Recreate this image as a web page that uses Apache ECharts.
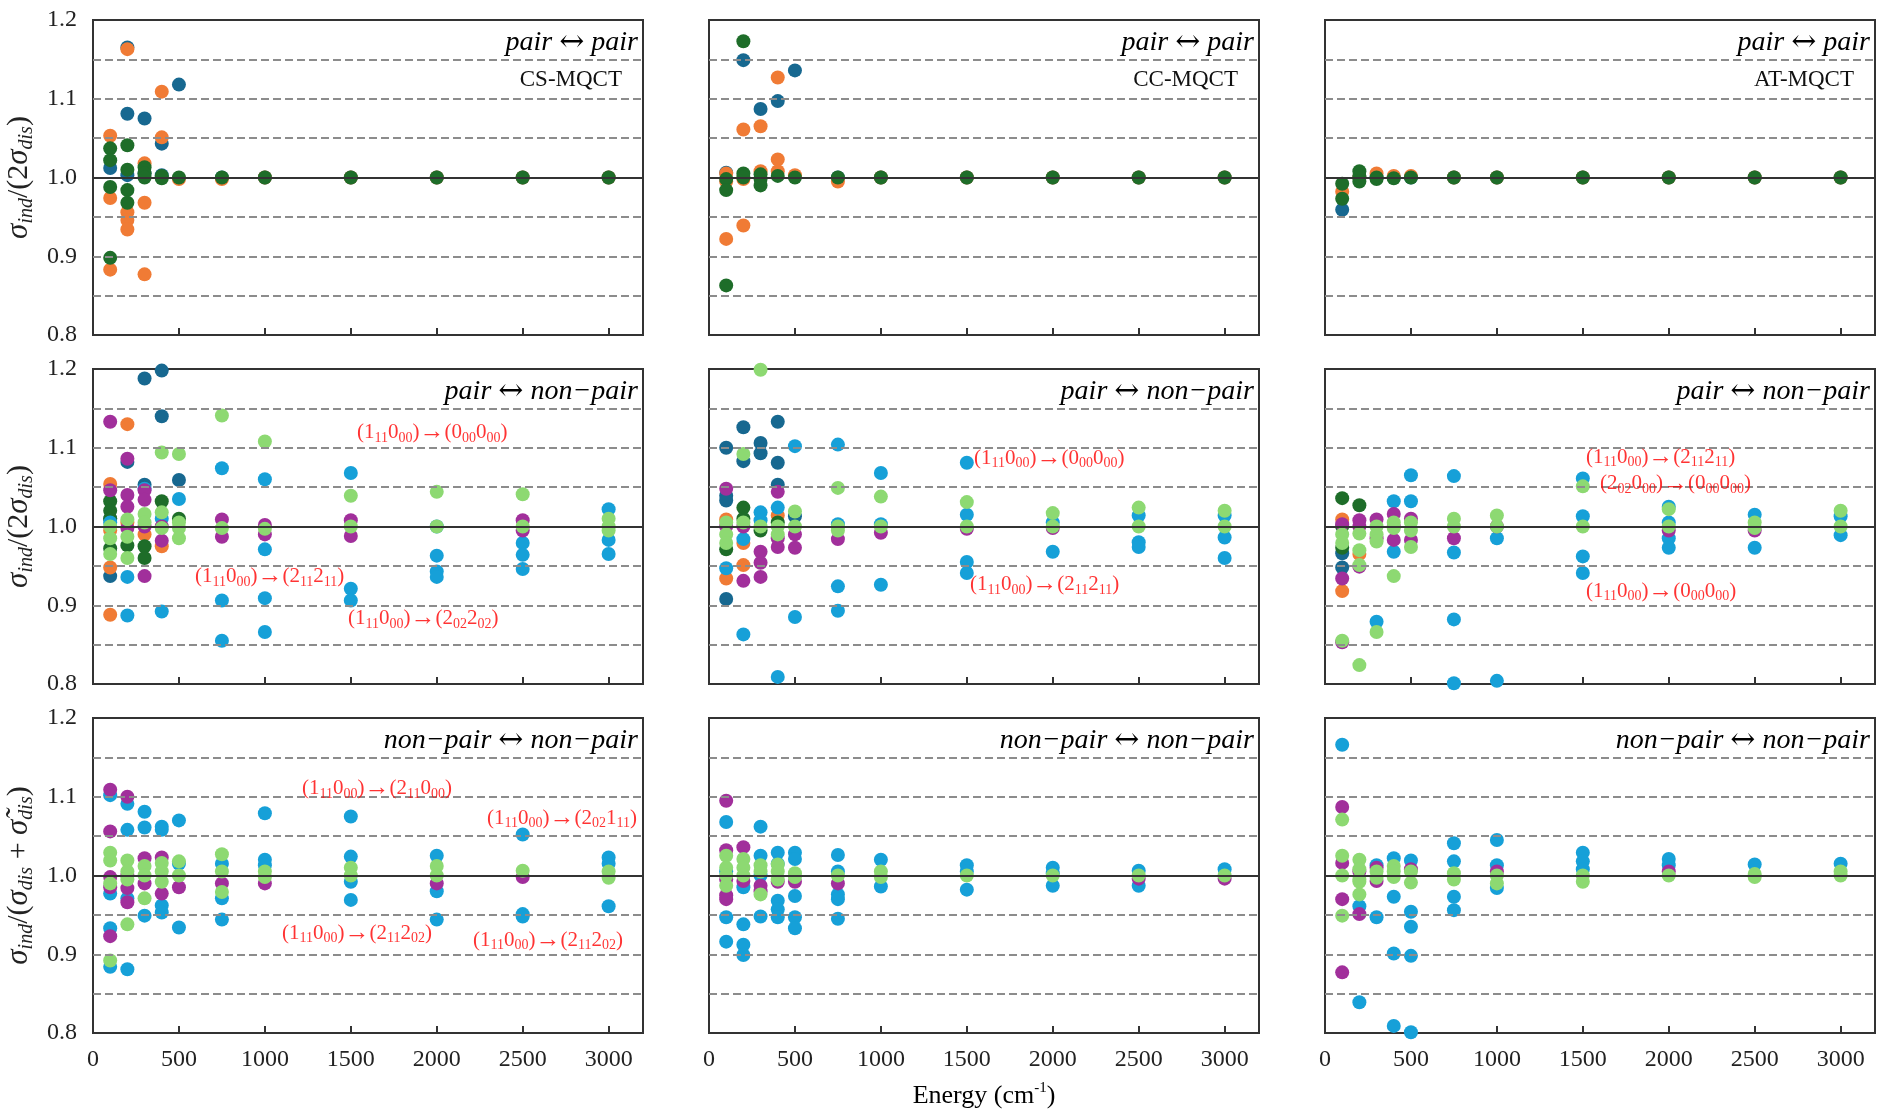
<!DOCTYPE html>
<html><head><meta charset="utf-8">
<script src="https://cdn.jsdelivr.net/npm/echarts@6/dist/echarts.min.js"></script>
<style>html,body{margin:0;padding:0;background:#fff}#c{width:1877px;height:1112px}</style>
</head><body><div id="c"></div>
<script>
// ---------- tick / reference values ----------
const energyTicks = [0, 500, 1000, 1500, 2000, 2500, 3000];
const ratioTicks = [0.8, 0.9, 1.0, 1.1, 1.2];
const dashedRefs = [0.85, 0.9, 0.95, 1.05, 1.1, 1.15];
const unityRef = 1.0;

// ---------- pair <-> pair ----------
const csPP_db = [[100,1.012],[200,1.165],[200,1.081],[200,1.003],[300,1.075],[300,1.005],[400,1.043],[400,1.003],[500,1.118],[750,1.0],[1000,1.0],[1500,1.0],[2000,1.0],[2500,1.0],[3000,1.0]];
const csPP_or = [[100,1.053],[100,0.974],[100,0.883],[200,1.163],[200,0.956],[200,0.946],[200,0.934],[300,1.018],[300,0.968],[300,0.877],[400,1.109],[400,1.051],[500,0.998],[750,0.998],[1000,1.0],[1500,1.0],[2000,1.0],[2500,1.0],[3000,1.0]];
const csPP_dg = [[100,1.037],[100,1.022],[100,0.988],[100,0.898],[200,1.041],[200,1.010],[200,0.984],[200,0.968],[300,1.013],[300,1.005],[300,1.0],[400,1.002],[400,0.999],[500,1.0],[750,1.0],[1000,1.0],[1500,1.0],[2000,1.0],[2500,1.0],[3000,1.0]];

const ccPP_db = [[100,1.006],[200,1.149],[300,1.087],[400,1.097],[500,1.136],[750,1.0],[1000,1.0],[1500,1.0],[2000,1.0],[2500,1.0],[3000,1.0]];
const ccPP_or = [[100,1.005],[100,0.995],[100,0.922],[200,0.998],[200,1.061],[200,0.939],[300,1.065],[300,1.008],[400,1.127],[400,1.023],[400,1.008],[500,1.003],[750,0.995],[1000,1.0],[1500,1.0],[2000,1.0],[2500,1.0],[3000,1.0]];
const ccPP_dg = [[100,0.998],[100,0.984],[100,0.863],[200,1.173],[200,1.005],[200,1.0],[300,1.004],[300,0.998],[300,0.99],[400,1.002],[500,1.0],[750,1.0],[1000,1.0],[1500,1.0],[2000,1.0],[2500,1.0],[3000,1.0]];

const atPP_db = [[100,0.959],[200,1.0],[300,1.0],[400,1.0],[500,1.0],[750,1.0],[1000,1.0],[1500,1.0],[2000,1.0],[2500,1.0],[3000,1.0]];
const atPP_or = [[100,0.982],[200,1.0],[300,1.005],[400,1.002],[500,1.002],[750,1.0],[1000,1.0],[1500,1.0],[2000,1.0],[2500,1.0],[3000,1.0]];
const atPP_dg = [[100,0.992],[100,0.973],[200,1.008],[200,1.002],[200,0.995],[300,1.0],[300,0.998],[400,0.999],[500,1.0],[750,1.0],[1000,1.0],[1500,1.0],[2000,1.0],[2500,1.0],[3000,1.0]];

// ---------- pair <-> non-pair ----------
const csPN_db = [[100,1.01],[100,0.937],[200,1.082],[300,1.188],[300,1.053],[400,1.198],[400,1.14],[500,1.059]];
const csPN_or = [[100,1.054],[100,0.995],[100,0.948],[100,0.888],[200,1.13],[200,1.005],[300,0.99],[400,0.975]];
const csPN_dg = [[100,1.032],[100,1.02],[100,1.01],[100,0.972],[200,0.976],[300,0.975],[300,0.96],[400,1.032],[500,1.01]];
const csPN_lb = [[100,1.005],[200,0.936],[200,0.887],[300,1.048],[400,1.01],[400,0.892],[500,1.035],[750,1.074],[750,0.906],[750,0.855],[1000,1.06],[1000,0.971],[1000,0.909],[1000,0.866],[1500,1.068],[1500,0.921],[1500,0.906],[2000,1.0],[2000,0.963],[2000,0.943],[2000,0.936],[2500,0.979],[2500,0.964],[2500,0.946],[3000,1.022],[3000,0.983],[3000,0.965]];
const csPN_pu = [[100,1.133],[100,1.046],[200,1.086],[200,1.04],[200,1.025],[200,0.998],[300,1.046],[300,1.034],[300,1.0],[300,0.937],[400,1.0],[400,0.982],[750,1.009],[750,0.987],[1000,1.002],[1000,0.99],[1500,1.008],[1500,0.988],[2500,1.008],[2500,0.995]];
const csPN_lg = [[100,1.0],[100,0.985],[100,0.965],[200,1.009],[200,0.987],[200,0.96],[300,1.016],[300,1.005],[400,1.094],[400,1.018],[400,0.998],[500,1.092],[500,1.005],[500,0.998],[500,0.985],[750,1.141],[750,0.998],[1000,1.108],[1000,0.997],[1500,1.039],[1500,1.0],[2000,1.044],[2000,1.0],[2500,1.041],[2500,1.0],[3000,1.01],[3000,1.0],[3000,0.995]];

const ccPN_db = [[100,1.1],[100,1.039],[100,1.033],[100,0.908],[200,1.126],[200,1.083],[300,1.106],[300,1.093],[400,1.133],[400,1.081],[400,1.053],[500,1.013]];
const ccPN_or = [[100,1.009],[100,0.934],[200,0.979],[200,0.951],[400,1.014]];
const ccPN_dg = [[100,0.971],[200,1.024],[200,1.01],[300,0.995],[400,1.005]];
const ccPN_lb = [[100,0.947],[200,0.984],[200,0.863],[300,1.018],[300,1.008],[400,1.024],[400,0.809],[500,1.102],[500,0.885],[750,1.104],[750,1.003],[750,0.924],[750,0.893],[1000,1.068],[1000,1.003],[1000,0.926],[1500,1.081],[1500,1.015],[1500,0.955],[1500,0.941],[2000,1.005],[2000,0.968],[2500,1.014],[2500,0.98],[2500,0.974],[3000,1.014],[3000,0.986],[3000,0.96]];
const ccPN_pu = [[100,1.048],[100,1.0],[200,1.0],[200,0.931],[300,0.968],[300,0.954],[300,0.936],[400,1.044],[400,0.985],[400,0.974],[500,0.99],[500,0.973],[750,0.984],[1000,0.992],[1500,0.997],[2000,0.998]];
const ccPN_lg = [[100,1.005],[100,0.99],[100,0.979],[200,1.092],[200,1.005],[300,1.199],[300,1.0],[400,1.0],[400,0.99],[500,1.019],[500,1.0],[750,1.049],[750,1.0],[750,0.995],[1000,1.038],[1000,1.0],[1500,1.031],[1500,1.0],[2000,1.017],[2000,1.0],[2500,1.024],[2500,1.0],[3000,1.02],[3000,1.0]];

const atPN_db = [[100,0.966],[100,0.948]];
const atPN_or = [[100,1.009],[100,0.918],[200,0.965]];
const atPN_dg = [[100,1.036],[100,1.0],[100,0.973],[200,1.027]];
const atPN_lb = [[300,0.879],[400,1.032],[400,0.968],[500,1.065],[500,1.032],[750,1.064],[750,0.967],[750,0.882],[750,0.801],[1000,0.985],[1000,0.804],[1500,1.061],[1500,1.013],[1500,0.962],[1500,0.941],[2000,1.025],[2000,1.005],[2000,0.985],[2000,0.973],[2500,1.015],[2500,0.973],[3000,1.013],[3000,0.989]];
const atPN_pu = [[100,1.003],[100,0.934],[100,0.853],[200,1.008],[200,1.0],[200,0.949],[300,1.009],[300,0.985],[400,1.016],[400,1.0],[400,0.983],[500,1.01],[500,0.983],[750,0.985],[1000,1.0],[2000,0.995],[2500,0.995]];
const atPN_lg = [[100,0.99],[100,0.979],[100,0.855],[200,0.991],[200,0.97],[200,0.951],[200,0.824],[300,1.0],[300,0.99],[300,0.981],[300,0.866],[400,1.005],[400,0.998],[400,0.937],[500,1.005],[500,0.995],[500,0.974],[750,1.01],[750,1.0],[1000,1.014],[1000,1.0],[1500,1.051],[1500,1.0],[2000,1.022],[2000,1.0],[2500,1.005],[2500,0.998],[3000,1.02],[3000,1.0]];

// ---------- non-pair <-> non-pair ----------
const csNN_lb = [[100,1.102],[100,0.977],[100,0.933],[100,0.884],[200,1.091],[200,1.058],[200,0.971],[200,0.881],[300,1.081],[300,1.061],[300,0.949],[400,1.062],[400,1.058],[400,0.962],[400,0.953],[500,1.07],[500,1.015],[500,0.934],[750,1.015],[750,0.971],[750,0.944],[1000,1.079],[1000,1.02],[1000,1.013],[1500,1.075],[1500,1.024],[1500,0.992],[1500,0.969],[2000,1.025],[2000,0.98],[2000,0.944],[2500,1.052],[2500,0.951],[2500,0.948],[3000,1.023],[3000,1.015],[3000,0.961]];
const csNN_pu = [[100,1.109],[100,1.056],[100,0.998],[100,0.985],[100,0.923],[200,1.1],[200,1.0],[200,0.984],[200,0.966],[300,1.022],[300,0.99],[400,1.023],[400,0.977],[500,0.985],[750,0.99],[1000,0.99],[2000,0.99],[2500,0.998]];
const csNN_lg = [[100,1.029],[100,1.019],[100,0.99],[100,0.892],[200,1.019],[200,1.005],[200,0.995],[200,0.938],[300,1.012],[300,1.0],[300,0.971],[400,1.016],[400,1.005],[400,0.992],[500,1.018],[500,1.0],[750,1.027],[750,1.005],[750,0.979],[1000,1.005],[1000,0.998],[1500,1.01],[1500,1.0],[2000,1.012],[2000,1.0],[2500,1.006],[3000,1.005],[3000,0.997]];

const ccNN_lb = [[100,1.068],[100,1.005],[100,0.947],[100,0.916],[200,0.985],[200,0.938],[200,0.912],[200,0.899],[300,1.062],[300,1.025],[300,1.0],[300,0.948],[400,1.029],[400,1.015],[400,0.968],[400,0.957],[400,0.947],[500,1.029],[500,1.021],[500,0.974],[500,0.947],[500,0.933],[750,1.026],[750,1.005],[750,0.976],[750,0.97],[750,0.945],[1000,1.02],[1000,0.986],[1500,1.013],[1500,1.005],[1500,0.982],[2000,1.01],[2000,1.003],[2000,0.987],[2500,1.006],[2500,0.987],[3000,1.008]];
const ccNN_pu = [[100,1.095],[100,1.032],[100,0.995],[100,0.975],[100,0.97],[200,1.036],[200,0.993],[300,0.987],[300,0.98],[400,0.992],[500,0.992],[750,0.99],[2500,0.996],[3000,0.996]];
const ccNN_lg = [[100,1.025],[100,1.01],[100,1.0],[100,0.987],[200,1.021],[200,1.01],[200,1.0],[300,1.013],[300,1.005],[300,0.976],[400,1.014],[400,1.005],[400,0.995],[500,1.003],[500,0.998],[750,1.0],[1000,1.005],[1000,0.998],[1500,1.0],[2000,1.0],[2500,1.0],[3000,1.0]];

const atNN_lb = [[100,1.166],[200,0.961],[200,0.839],[300,1.013],[300,0.947],[400,1.022],[400,0.973],[400,0.901],[400,0.809],[500,1.019],[500,0.954],[500,0.935],[500,0.898],[500,0.801],[750,1.041],[750,1.018],[750,0.973],[750,0.956],[1000,1.045],[1000,1.013],[1000,0.984],[1500,1.029],[1500,1.018],[1500,1.008],[2000,1.021],[2000,1.013],[2500,1.014],[3000,1.015]];
const atNN_pu = [[100,1.087],[100,1.016],[100,0.97],[100,0.877],[200,1.005],[200,0.951],[300,1.01],[300,0.993],[500,1.008],[1000,1.005],[2000,1.005]];
const atNN_lg = [[100,1.071],[100,1.025],[100,1.0],[100,0.949],[200,1.02],[200,1.008],[200,0.995],[200,0.992],[200,0.976],[300,1.005],[300,0.997],[400,1.012],[400,1.005],[400,0.998],[500,1.005],[500,0.991],[750,1.003],[750,0.995],[1000,1.0],[1000,0.99],[1500,1.0],[1500,0.992],[2000,1.0],[2500,1.002],[2500,0.998],[3000,1.005],[3000,1.0]];

// ---------- text ----------
const panelLabels = [['pair', 'pair'], ['pair', 'non−pair'], ['non−pair', 'non−pair']];
const methodLabels = ['CS-MQCT', 'CC-MQCT', 'AT-MQCT'];
// annotations: [panelIndex, energy, ratio, states] ; rendered as (A_a B_b)→(C_c D_d)
const annotations = [
  [3, 1536, 1.119, ['1','11','0','00','0','00','0','00']],
  [3, 593, 0.936, ['1','11','0','00','2','11','2','11']],
  [3, 1484, 0.883, ['1','11','0','00','2','02','2','02']],
  [4, 1542, 1.087, ['1','11','0','00','0','00','0','00']],
  [4, 1518, 0.926, ['1','11','0','00','2','11','2','11']],
  [5, 1518, 1.088, ['1','11','0','00','2','11','2','11']],
  [5, 1600, 1.054, ['2','02','0','00','0','00','0','00']],
  [5, 1518, 0.918, ['1','11','0','00','0','00','0','00']],
  [6, 1216, 1.110, ['1','11','0','00','2','11','0','00']],
  [6, 2292, 1.073, ['1','11','0','00','2','02','1','11']],
  [6, 1100, 0.927, ['1','11','0','00','2','11','2','02']],
  [6, 2211, 0.918, ['1','11','0','00','2','11','2','02']]
];

const colors = {db:'#176890', or:'#f07b35', dg:'#1e6d29', lb:'#16a0d8', pu:'#a12f9b', lg:'#8dd972'};

const panels = [
  [['db',csPP_db],['or',csPP_or],['dg',csPP_dg]],
  [['db',ccPP_db],['or',ccPP_or],['dg',ccPP_dg]],
  [['db',atPP_db],['or',atPP_or],['dg',atPP_dg]],
  [['db',csPN_db],['or',csPN_or],['dg',csPN_dg],['lb',csPN_lb],['pu',csPN_pu],['lg',csPN_lg]],
  [['db',ccPN_db],['or',ccPN_or],['dg',ccPN_dg],['lb',ccPN_lb],['pu',ccPN_pu],['lg',ccPN_lg]],
  [['db',atPN_db],['or',atPN_or],['dg',atPN_dg],['lb',atPN_lb],['pu',atPN_pu],['lg',atPN_lg]],
  [['lb',csNN_lb],['pu',csNN_pu],['lg',csNN_lg]],
  [['lb',ccNN_lb],['pu',ccNN_pu],['lg',ccNN_lg]],
  [['lb',atNN_lb],['pu',atNN_pu],['lg',atNN_lg]]
];

// ---------- layout ----------
const serif = '"Liberation Serif","Times New Roman",serif';
const W = 550, H = 315;
const gridLefts = [93, 709, 1325];
const gridTops = [20, 369, 718];
const ink = '#222';
const frame = '#333';

const yNameRich = {
  i: {fontFamily: serif, fontStyle: 'italic', fontSize: 31, lineHeight: 36, color: ink},
  s: {fontFamily: serif, fontStyle: 'italic', fontSize: 20, lineHeight: 20, verticalAlign: 'bottom', color: ink},
  n: {fontFamily: serif, fontSize: 30, lineHeight: 36, color: ink}
};
const yName1 = '{i|σ}{s|ind}{n|/(2}{i|σ}{s|dis}{n|)}';
const yName2 = '{i|σ}{s|ind}{n|/(}{i|σ}{s|dis}{n| + }{i|σ̃}{s|dis}{n|)}';

const annRich = {
  a: {fontFamily: serif, fontSize: 21, lineHeight: 25, color: '#ff0000'},
  r: {fontFamily: serif, fontSize: 25, lineHeight: 25, color: '#ff0000'},
  b: {fontFamily: serif, fontSize: 14, lineHeight: 14, verticalAlign: 'bottom', color: '#ff0000'}
};
function annText(s) {
  return `{a|(${s[0]}}{b|${s[1]}}{a|${s[2]}}{b|${s[3]}}{a|)}{r|→}{a|(${s[4]}}{b|${s[5]}}{a|${s[6]}}{b|${s[7]}}{a|)}`;
}
const labelRich = {
  t: {fontFamily: serif, fontStyle: 'italic', fontSize: 28, lineHeight: 32, color: '#111'},
  r: {fontFamily: '"DejaVu Serif",serif', fontSize: 30, lineHeight: 32, color: '#111'}
};

const grids = [], xAxes = [], yAxes = [], series = [], graphics = [];
panels.forEach((groups, i) => {
  const row = Math.floor(i / 3), col = i % 3;
  const left = gridLefts[col], top = gridTops[row];
  grids.push({left, top, width: W, height: H, show: true, borderColor: frame, borderWidth: 2, backgroundColor: 'transparent'});
  xAxes.push({
    gridIndex: i, type: 'value', min: 0, max: 3200, interval: 500,
    axisLine: {show: true, onZero: false, lineStyle: {color: frame, width: 2}},
    axisTick: {show: true, inside: true, length: 7, lineStyle: {color: frame, width: 2}},
    axisLabel: {show: row === 2, showMaxLabel: false, margin: 15, fontFamily: serif, fontSize: 24, color: ink,
      formatter: v => (energyTicks.indexOf(v) >= 0 ? String(v) : '')},
    splitLine: {show: false}
  });
  yAxes.push({
    gridIndex: i, type: 'value', min: 0.8, max: 1.2, interval: 0.1,
    axisLine: {show: true, onZero: false, lineStyle: {color: frame, width: 2}},
    axisTick: {show: false},
    axisLabel: {show: col === 0, margin: 16, fontFamily: serif, fontSize: 24, color: ink,
      formatter: v => { const t = ratioTicks.find(r => Math.abs(r - v) < 1e-6); return t === undefined ? '' : t.toFixed(1); }},
    splitLine: {show: false},
    name: col === 0 ? (row === 2 ? yName2 : yName1) : '',
    nameLocation: 'middle', nameRotate: 90, nameGap: 56,
    nameTextStyle: {rich: yNameRich}
  });
  // reference lines
  series.push({
    type: 'scatter', xAxisIndex: i, yAxisIndex: i, data: [], z: 1, silent: true,
    markLine: {
      symbol: ['none', 'none'], silent: true, label: {show: false}, animation: false,
      data: dashedRefs.map(v => ({yAxis: v, lineStyle: {type: [8, 4], color: '#8c8c8c', width: 2}}))
        .concat([{yAxis: unityRef, lineStyle: {type: 'solid', color: frame, width: 2}}])
    }
  });
  groups.forEach(([c, data]) => {
    series.push({
      type: 'scatter', xAxisIndex: i, yAxisIndex: i, data, symbol: 'circle', symbolSize: 14,
      itemStyle: {color: colors[c], opacity: 1}, z: 3, animation: false, silent: true
    });
  });
  // panel labels
  const pl = panelLabels[row];
  graphics.push({type: 'text', x: left + W - 5, y: top + 23, z: 10,
    style: {text: `{t|${pl[0]} }{r|↔}{t| ${pl[1]}}`, rich: labelRich, textAlign: 'right', textVerticalAlign: 'middle'}});
  if (row === 0) {
    graphics.push({type: 'text', x: left + W - 21, y: top + 60, z: 10,
      style: {text: methodLabels[col], font: `23px ${serif}`, fill: '#111', textAlign: 'right', textVerticalAlign: 'middle'}});
  }
});

// annotation labels, placed through the panel scales
annotations.forEach(([p, e, r, s]) => {
  series.push({
    type: 'scatter', xAxisIndex: p, yAxisIndex: p, data: [[e, r]], symbolSize: 0, z: 5, silent: true, animation: false,
    label: {show: true, position: 'right', distance: 0, formatter: annText(s), rich: annRich}
  });
});

// x-axis title
graphics.push({type: 'text', x: gridLefts[1] + W / 2, y: 1096, z: 10,
  style: {text: '{n|Energy (cm}{p|-1}{n|)}', textAlign: 'center', textVerticalAlign: 'middle',
    rich: {n: {fontFamily: serif, fontSize: 26, lineHeight: 30, color: ink},
           p: {fontFamily: serif, fontSize: 15, lineHeight: 15, verticalAlign: 'top', color: ink}}}});

const chart = echarts.init(document.getElementById('c'), null, {renderer: 'canvas'});
chart.setOption({
  animation: false,
  backgroundColor: '#fff',
  grid: grids, xAxis: xAxes, yAxis: yAxes, series, graphic: graphics
});
</script>
</body></html>
